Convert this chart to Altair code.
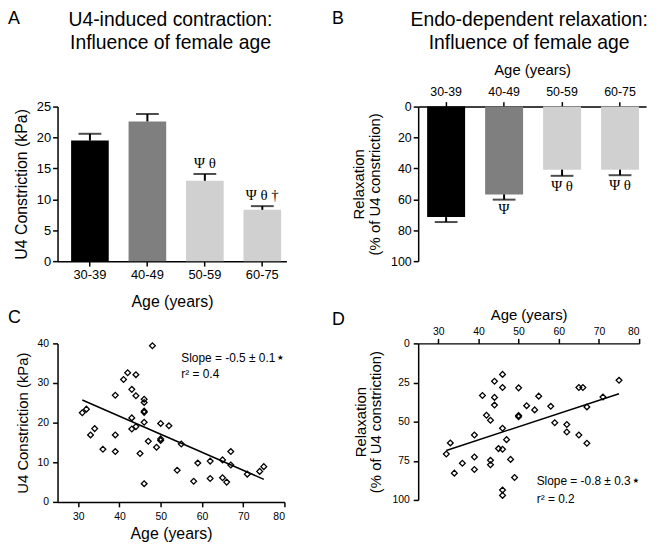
import altair as alt
import pandas as pd

FONT = "Liberation Sans"
SERIF = "Liberation Serif"

# ---------- Panel A / B data ----------
groups = ["30-39", "40-49", "50-59", "60-75"]
a_mean = [19.5, 22.6, 13.0, 8.3]
a_top = [20.6, 23.8, 14.1, 8.9]
a_colors = ["#000000", "#7f7f7f", "#d0d0d0", "#d0d0d0"]
a_annot = ["", "", "Ψ θ", "Ψ θ †"]
a_title = "U4-induced contraction:\nInfluence of female age"

b_mean = [71.5, 56.8, 40.8, 40.8]
b_top = [74.7, 60.2, 44.8, 44.4]
b_colors = ["#000000", "#9c9c9c", "#7b7b7b", "#d0d0d0"]
b_annot = ["", "Ψ", "Ψ θ", "Ψ θ"]
b_title = "Endo-dependent relaxation:\nInfluence of female age"

# ---------- Panel C / D data ----------
c_age = [31, 32, 33, 34, 36, 39, 39, 39, 41, 42, 43, 43, 43, 44, 44, 44, 45,
         46, 46, 46, 46, 46, 46, 47, 48, 49, 50, 50, 50, 52, 54, 55, 58, 59,
         62, 62, 65, 65, 66, 67, 67, 71, 74, 75]
c_val = [22.5, 23.4, 16.9, 18.5, 13.3, 26.9, 16.9, 12.7, 30.9, 32.6, 28.4,
         21.2, 18.4, 32.1, 26.8, 19.0, 12.2, 25.9, 25.1, 22.9, 22.6, 20.1, 4.6,
         15.3, 39.4, 13.8, 19.8, 15.9, 15.5, 19.2, 8.0, 14.6, 5.2, 9.8, 10.3,
         5.9, 10.6, 6.1, 5.0, 12.7, 9.3, 7.0, 7.7, 8.9]
c_fit_age = [31, 75]
c_fit_val = [25.7, 5.7]
c_stats = ["Slope = -0.5 ± 0.1", "r² = 0.4"]
c_star = ["★", ""]
c_stats_x = [55, 55]
c_stats_y = [36.3, 32.3]

d_age = [32, 33, 34, 36, 39, 39, 39, 41, 42, 43, 43, 43, 44, 44, 44, 45, 46,
         46, 46, 46, 46, 46, 47, 48, 49, 50, 50, 50, 52, 54, 55, 58, 59, 62,
         62, 65, 65, 66, 67, 67, 71, 75]
d_val = [70.7, 63.6, 82.9, 76.6, 58.5, 72.6, 80.6, 33.3, 45.9, 49.1, 74.7,
         77.5, 24.2, 34.5, 39.4, 67.2, 19.8, 28.2, 54.2, 67.6, 93.7, 97.1, 61.5,
         74.1, 85.7, 28.4, 46.1, 46.9, 39.8, 42.5, 33.7, 40.2, 50.7, 51.8, 56.6,
         28.2, 58.5, 28.2, 40.6, 63.8, 34.3, 23.6]
d_fit_age = [32, 75]
d_fit_val = [68.4, 32.2]
d_stats = ["Slope = -0.8 ± 0.3", "r² = 0.2"]
d_star = ["★", ""]
d_stats_x = [54.5, 54.5]
d_stats_y = [88.2, 99.2]

# ---------- tables ----------
dfA = pd.DataFrame({"group": groups, "mean": a_mean, "top": a_top, "annot": a_annot})
dfB = pd.DataFrame({"group": groups, "mean": b_mean, "top": b_top, "annot": b_annot})
dfC = pd.DataFrame({"age": c_age, "val": c_val})
dfD = pd.DataFrame({"age": d_age, "val": d_val})
fitC = pd.DataFrame({"age": c_fit_age, "val": c_fit_val})
fitD = pd.DataFrame({"age": d_fit_age, "val": d_fit_val})
statC = pd.DataFrame({"age": c_stats_x, "val": c_stats_y, "t": c_stats, "s": c_star})
statD = pd.DataFrame({"age": d_stats_x, "val": d_stats_y, "t": d_stats, "s": d_star})


def letter(ch, dx, dy):
    return alt.Chart(pd.DataFrame({"t": [ch]})).mark_text(
        font=FONT, fontSize=18, align="left", baseline="alphabetic", color="black"
    ).encode(x=alt.value(dx), y=alt.value(dy), text="t:N")


def head(txt, cx, dy):
    return alt.Chart(pd.DataFrame({"t": [txt]})).mark_text(
        font=FONT, fontSize=19.5, align="center", baseline="alphabetic", color="black",
        lineBreak="\n", lineHeight=23
    ).encode(x=alt.value(cx), y=alt.value(dy), text="t:N")


def bar_panel(df, colors, x, y_mean, y_top, ann_dy, extra, w, h):
    base = alt.Chart(df)
    bars = base.mark_bar().encode(
        x=x, y=y_mean,
        color=alt.Color("group:N", scale=alt.Scale(domain=groups, range=colors), legend=None))
    rule = base.mark_rule(color="black", strokeWidth=2).encode(x=x, y=y_mean, y2="top:Q")
    cap = base.mark_tick(color="black", thickness=2, size=23, orient="horizontal").encode(
        x=x, y=y_top)
    txt = base.mark_text(font=SERIF, fontSize=15, dy=ann_dy, baseline="middle",
                         color="black").encode(x=x, y=y_top, text="annot:N")
    return alt.layer(bars, rule, cap, txt, *extra).properties(width=w, height=h)


def scatter_panel(df, fit, st, x, y, extra, w, h):
    pts = alt.Chart(df).mark_point(shape="diamond", filled=False, color="black",
                                   size=34, strokeWidth=1.3, opacity=1).encode(x=x, y=y)
    line = alt.Chart(fit).mark_line(color="black", strokeWidth=1.5).encode(x=x, y=y)
    main = alt.Chart(st).mark_text(font=FONT, fontSize=12, align="left",
                                   baseline="middle", color="black").encode(x=x, y=y, text="t:N")
    star = alt.Chart(st).mark_text(font="DejaVu Sans", fontSize=7.5, align="center",
                                   baseline="middle", color="black", dx=100).encode(
        x=x, y=y, text="s:N")
    return alt.layer(pts, line, main, star, *extra).properties(width=w, height=h)


# ---------- Panel A ----------
axA_x = alt.Axis(title="Age (years)", labelAngle=0, labelFontSize=13,
                 titleFontSize=16, titlePadding=12, labelPadding=3)
axA_y = alt.Axis(title="U4 Constriction (kPa)", values=[0, 5, 10, 15, 20, 25],
                 labelFontSize=13, titleFontSize=16, titlePadding=7, labelOverlap=False)
scA_y = alt.Scale(domain=[0, 25], nice=False)
xA = alt.X("group:N", sort=groups, axis=axA_x,
           scale=alt.Scale(paddingInner=0.345, paddingOuter=0.164, align=0.72))
panelA = bar_panel(dfA, a_colors, xA,
                   alt.Y("mean:Q", scale=scA_y, axis=axA_y),
                   alt.Y("top:Q", scale=scA_y, axis=axA_y), -11,
                   [letter("A", -50, -83), head(a_title, 114, -81)], 231, 156)

# ---------- Panel B ----------
axB_x = alt.Axis(title="Age (years)", orient="top", labelAngle=0, labelFontSize=12.5,
                 titleFontSize=15, titlePadding=8, labelPadding=3)
axB_y = alt.Axis(title=["Relaxation", "(% of U4 constriction)"],
                 values=[0, 20, 40, 60, 80, 100], labelFontSize=12.5,
                 titleFontSize=15, titlePadding=8, titleLineHeight=16, labelOverlap=False)
scB_y = alt.Scale(domain=[0, 100], reverse=True, nice=False)
xB = alt.X("group:N", sort=groups, axis=axB_x,
           scale=alt.Scale(paddingInner=0.345, paddingOuter=0.138, align=0.56))
panelB = bar_panel(dfB, b_colors, xB,
                   alt.Y("mean:Q", scale=scB_y, axis=axB_y),
                   alt.Y("top:Q", scale=scB_y, axis=axB_y), 10,
                   [letter("B", -87, -83), head(b_title, 112, -81)], 230, 156)

# ---------- Panel C ----------
xC = alt.X("age:Q", scale=alt.Scale(domain=[25, 80], nice=False),
           axis=alt.Axis(title="Age (years)", values=[30, 40, 50, 60, 70, 80],
                         labelFontSize=10.5, titleFontSize=16, titlePadding=3,
                         labelPadding=5, labelOverlap=False))
yC = alt.Y("val:Q", scale=alt.Scale(domain=[0, 40], nice=False),
           axis=alt.Axis(title="U4 Constriction (kPa)", values=[0, 10, 20, 30, 40],
                         labelFontSize=10.5, titleFontSize=15, titlePadding=7,
                         labelPadding=4, labelOverlap=False))
panelC = scatter_panel(dfC, fitC, statC, xC, yC, [letter("C", -50, -21)], 229, 160)

# ---------- Panel D ----------
xD = alt.X("age:Q", scale=alt.Scale(domain=[25, 80], nice=False),
           axis=alt.Axis(title="Age (years)", orient="top", values=[30, 40, 50, 60, 70, 80],
                         labelFontSize=10.5, titleFontSize=15, titlePadding=4,
                         labelOverlap=False))
yD = alt.Y("val:Q", scale=alt.Scale(domain=[0, 100], reverse=True, nice=False),
           axis=alt.Axis(title=["Relaxation", "(% of U4 constriction)"],
                         values=[0, 25, 50, 75, 100], labelFontSize=10.5,
                         titleFontSize=15, titlePadding=8, titleLineHeight=16,
                         labelPadding=4, labelOverlap=False))
panelD = scatter_panel(dfD, fitD, statD, xD, yD, [letter("D", -87, -19)], 223, 158)

chart = alt.concat(panelA, panelB, panelC, panelD, columns=2,
                   spacing={"row": 83, "column": 133}, bounds="flush").properties(
    padding={"left": 0, "top": 0, "right": 4, "bottom": 2}
).configure_view(stroke=None).configure_axis(
    labelFont=FONT, titleFont=FONT, labelColor="black", titleColor="black",
    titleFontWeight="normal", domainColor="black", tickColor="black",
    domainWidth=1.5, tickWidth=1.5, tickSize=5, grid=False
)

chart.save("out.html", embed_options={"renderer": "svg", "actions": False})
